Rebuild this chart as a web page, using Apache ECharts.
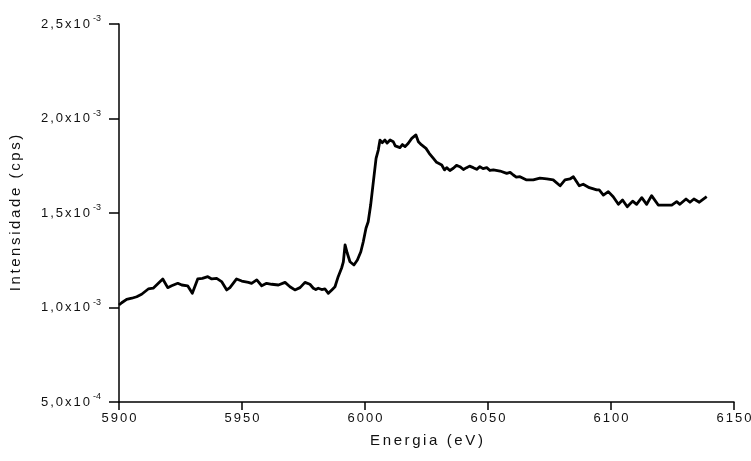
<!DOCTYPE html>
<html>
<head>
<meta charset="utf-8">
<script src="https://cdn.jsdelivr.net/npm/echarts@6/dist/echarts.min.js"></script>
<style>
    html, body { margin: 0; padding: 0; background: #fff; }
    #chart { width: 751px; height: 461px; }
</style>
</head>
<body>
<div id="chart"></div>
<script>
    // energia (eV)
    var energy = [
        5900, 5901.1, 5903.1, 5905.2, 5907.2, 5909.2, 5911.9, 5913.9, 5916.0, 5917.8,
        5919.8, 5921.4, 5923.9, 5925.5, 5927.9, 5929.8, 5932.0, 5933.9, 5936.1, 5937.7,
        5939.7, 5941.7, 5943.8, 5945.1, 5947.8, 5949.9, 5952.6, 5953.9, 5956.0, 5958.0,
        5960.0, 5962.1, 5964.8, 5967.5, 5969.5, 5971.5, 5973.6, 5975.6, 5977.6, 5979.0,
        5980.0, 5981.0, 5982.4, 5983.7, 5985.1, 5986.5, 5987.8, 5989.1, 5990.5, 5991.2,
        5991.9, 5992.8, 5993.9, 5995.5, 5996.9, 5998.3, 5999.3, 6000.4, 6001.3, 6002.3,
        6003.4, 6004.5, 6005.4, 6006.1, 6007.0, 6008.1, 6009.0, 6010.2, 6011.5, 6012.3,
        6012.9, 6014.2, 6015.2, 6016.3, 6017.6, 6019.0, 6020.7, 6021.7, 6023.0, 6024.8,
        6026.1, 6027.8, 6029.1, 6031.2, 6032.3, 6033.2, 6034.5, 6035.9, 6037.2, 6038.6,
        6040.0, 6041.3, 6042.5, 6044.0, 6045.4, 6046.7, 6048.0, 6049.5, 6050.8, 6052.2,
        6054.9, 6057.6, 6059.0, 6060.3, 6061.5, 6063.0, 6065.7, 6068.4, 6071.1, 6073.9,
        6076.5, 6079.3, 6081.3, 6083.3, 6084.7, 6087.1, 6088.7, 6091.2, 6094.2, 6095.2,
        6096.9, 6098.9, 6100.9, 6103.0, 6104.7, 6106.6, 6108.8, 6110.4, 6112.5, 6114.5,
        6116.5, 6119.2, 6121.9, 6124.7, 6126.7, 6128.0, 6130.5, 6132.1, 6133.7, 6135.9,
        6138.9
    ];
    // intensidade, em unidades de 10^-3 cps
    var intensity = [
        1.013, 1.025, 1.043, 1.049, 1.057, 1.070, 1.098, 1.102, 1.128, 1.151,
        1.105, 1.115, 1.128, 1.119, 1.115, 1.075, 1.151, 1.154, 1.163, 1.151,
        1.154, 1.137, 1.093, 1.105, 1.151, 1.140, 1.133, 1.128, 1.146, 1.115,
        1.128, 1.123, 1.119, 1.133, 1.110, 1.093, 1.105, 1.133, 1.123, 1.102,
        1.095, 1.102, 1.095, 1.098, 1.075, 1.093, 1.110, 1.163, 1.209, 1.241,
        1.331, 1.287, 1.242, 1.225, 1.251, 1.295, 1.348, 1.419, 1.454, 1.542,
        1.666, 1.789, 1.833, 1.886, 1.872, 1.886, 1.870, 1.886, 1.877, 1.855,
        1.860, 1.846, 1.862, 1.851, 1.869, 1.895, 1.913, 1.877, 1.860, 1.842,
        1.816, 1.789, 1.768, 1.754, 1.728, 1.740, 1.725, 1.737, 1.752, 1.745,
        1.730, 1.740, 1.748, 1.740, 1.731, 1.745, 1.735, 1.740, 1.725, 1.728,
        1.722, 1.710, 1.715, 1.701, 1.690, 1.692, 1.675, 1.675, 1.684, 1.680,
        1.675, 1.644, 1.675, 1.680, 1.692, 1.644, 1.652, 1.634, 1.622, 1.622,
        1.595, 1.613, 1.586, 1.546, 1.569, 1.533, 1.563, 1.546, 1.581, 1.546,
        1.592, 1.542, 1.542, 1.542, 1.560, 1.546, 1.574, 1.557, 1.574, 1.557,
        1.586
    ];

    // rótulos do eixo y: mantissa e expoente
    var yTickValues = [0.5, 1.0, 1.5, 2.0, 2.5];
    var yTickMantissa = ['5,0', '1,0', '1,5', '2,0', '2,5'];
    var yTickExponent = ['-4', '-3', '-3', '-3', '-3'];

    var xTicks = [5900, 5950, 6000, 6050, 6100, 6150];
    var xTitle = 'Energia (eV)';
    var yTitle = 'Intensidade (cps)';

    var points = [];
    for (var i = 0; i < energy.length; i++) {
        points.push([energy[i], intensity[i]]);
    }

    var fontName = 'Liberation Sans';

    // texto espaçado: cada letra num fragmento rich com padding lateral
    function spaced(str, style) {
        var out = '';
        for (var k = 0; k < str.length; k++) {
            out += '{' + style + '|' + str.charAt(k) + '}';
        }
        return out;
    }

    var chart = echarts.init(document.getElementById('chart'), null, { renderer: 'canvas' });
    var option = {
        animation: false,
        backgroundColor: '#fff',
        grid: {
            left: 119,
            right: 17,
            top: 24,
            bottom: 59,
            containLabel: false,
            outerBoundsMode: 'none'
        },
        xAxis: {
            type: 'value',
            min: xTicks[0],
            max: xTicks[xTicks.length - 1],
            interval: 50,
            name: spaced(xTitle, 't'),
            nameLocation: 'middle',
            nameGap: 31,
            nameTextStyle: {
                rich: {
                    t: { fontFamily: fontName, fontSize: 15, color: '#111', padding: [0, 1.3] }
                }
            },
            axisLine: { onZero: false, lineStyle: { color: '#000', width: 1.5 } },
            axisTick: { inside: false, length: 8, lineStyle: { color: '#000', width: 1.5 } },
            axisLabel: {
                margin: 10,
                formatter: function (value) {
                    return spaced(String(value), 'd');
                },
                rich: {
                    d: { fontFamily: fontName, fontSize: 13, color: '#111', padding: [0, 1] }
                }
            },
            splitLine: { show: false }
        },
        yAxis: {
            type: 'value',
            min: 0.5,
            max: 2.5,
            interval: 0.5,
            name: spaced(yTitle, 't'),
            nameLocation: 'middle',
            nameGap: 96,
            nameTextStyle: {
                rich: {
                    t: { fontFamily: fontName, fontSize: 15, color: '#111', padding: [0, 1.3] }
                }
            },
            axisLine: { onZero: false, lineStyle: { color: '#000', width: 1.5 } },
            axisTick: { inside: false, length: 10, lineStyle: { color: '#000', width: 1.5 } },
            axisLabel: {
                margin: 18,
                formatter: function (value) {
                    for (var k = 0; k < yTickValues.length; k++) {
                        if (Math.abs(yTickValues[k] - value) < 1e-6) {
                            return spaced(yTickMantissa[k] + 'x10', 'm') + '{s|' + yTickExponent[k] + '}';
                        }
                    }
                    return '';
                },
                rich: {
                    m: { fontFamily: fontName, fontSize: 13, color: '#111', padding: [0, 1] },
                    s: { fontFamily: fontName, fontSize: 9, color: '#111', padding: [0, 0, 10, 2] }
                }
            },
            splitLine: { show: false }
        },
        series: [
            {
                type: 'line',
                data: points,
                showSymbol: false,
                lineStyle: { color: '#000', width: 2.8, join: 'round' }
            }
        ]
    };
    chart.setOption(option);
</script>
</body>
</html>
